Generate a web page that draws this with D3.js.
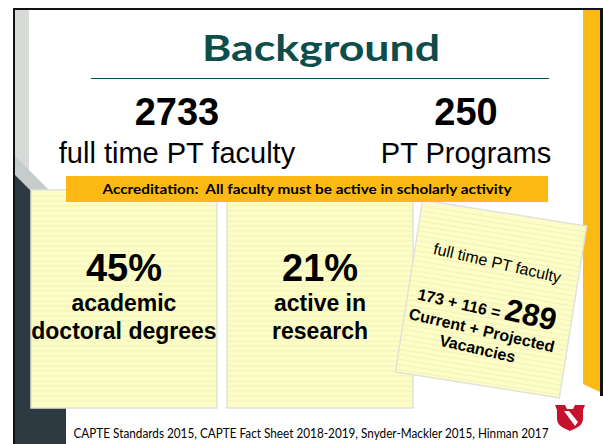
<!DOCTYPE html>
<html>
<head>
<meta charset="utf-8">
<script src="https://cdn.jsdelivr.net/npm/d3@7"></script>
<style>
  body { margin: 0; background: #fff; }
  svg { display: block; }
</style>
</head>
<body>
<div id="chart"></div>
<script>
// slide values
var title = "Background";
var headlineValues = ["2733", "250"];
var headlineLabels = ["full time PT faculty", "PT Programs"];
var bannerText = "Accreditation:  All faculty must be active in scholarly activity";
var noteValues = ["45%", "21%"];
var noteLabels = [["academic", "doctoral degrees"], ["active in", "research"]];
var vacancyHeader = "full time PT faculty";
var vacancyParts = ["173", "116"];
var vacancyTotal = "289";
var vacancyLabels = ["Current + Projected", "Vacancies"];
var footer = "CAPTE Standards 2015, CAPTE Fact Sheet 2018-2019, Snyder-Mackler 2015, Hinman 2017";

var w = 603, h = 444;
var gold = "#fdb913", teal = "#0d4d4a", noteFill = "#fdfdc6";
var arial = "'Liberation Sans', Arial, sans-serif";
var calibri = "Lato, 'Open Sans', sans-serif";

var svg = d3.select("#chart").append("svg")
    .attr("width", w)
    .attr("height", h);

// frame + side decoration
svg.append("rect").attr("x", 13).attr("y", 8).attr("width", 590).attr("height", 2).attr("fill", "#111");
svg.append("rect").attr("x", 13).attr("y", 8).attr("width", 2).attr("height", h).attr("fill", "#111");
svg.append("rect").attr("x", 600).attr("y", 8).attr("width", 3).attr("height", 388).attr("fill", "#111");
svg.append("rect").attr("x", 15).attr("y", 10).attr("width", 14).attr("height", 165).attr("fill", "#d8dad8");
svg.append("path").attr("d", "M15,156 L51,192 L15,192 Z").attr("fill", "#c6cbcb");
svg.append("path").attr("d", "M15,175 L32,192 L66,192 L66,444 L15,444 Z").attr("fill", "#2e3a41");
svg.append("path").attr("d", "M583,10 L600,10 L600,392 L583,384 Z").attr("fill", gold);

// title
svg.append("text")
    .attr("x", 321).attr("y", 61)
    .attr("text-anchor", "middle")
    .attr("font-family", calibri).attr("font-weight", "bold")
    .attr("font-size", 37).attr("fill", teal)
    .attr("textLength", 238).attr("lengthAdjust", "spacingAndGlyphs")
    .text(title);
svg.append("line").attr("x1", 91).attr("x2", 549).attr("y1", 78.5).attr("y2", 78.5)
    .attr("stroke", teal).attr("stroke-width", 1);

// headline numbers
var hx = d3.scalePoint().domain(headlineValues).range([177, 466]);
svg.selectAll("text.hv")
    .data(headlineValues)
    .enter().append("text")
    .attr("class", "hv")
    .attr("x", function(d) { return hx(d); })
    .attr("y", 125)
    .attr("text-anchor", "middle")
    .attr("font-family", arial).attr("font-weight", "bold").attr("font-size", 38)
    .attr("fill", "#000")
    .text(function(d) { return d; });
svg.selectAll("text.hl")
    .data(headlineLabels)
    .enter().append("text")
    .attr("class", "hl")
    .attr("x", function(d, i) { return hx(headlineValues[i]); })
    .attr("y", 163)
    .attr("text-anchor", "middle")
    .attr("font-family", arial).attr("font-size", 29)
    .attr("fill", "#000")
    .text(function(d) { return d; });

// legal pad notes
var nx = d3.scaleBand().domain(noteValues).range([31, 413]).paddingInner(0.052);
var noteTop = 190, noteBottom = 408;

function padLines(g, x0, y0, ww, hh) {
  var ys = d3.range(y0 + 6, y0 + hh - 2, 5);
  g.selectAll("line.pad")
    .data(ys)
    .enter().append("line")
    .attr("class", "pad")
    .attr("x1", x0 + 1).attr("x2", x0 + ww - 1)
    .attr("y1", function(d) { return d; }).attr("y2", function(d) { return d; })
    .attr("stroke", "#f1f1bd").attr("stroke-width", 1);
}

var notes = svg.selectAll("g.note")
    .data(noteValues)
    .enter().append("g")
    .attr("class", "note");
notes.append("rect")
    .attr("x", function(d) { return nx(d); })
    .attr("y", noteTop)
    .attr("width", nx.bandwidth())
    .attr("height", noteBottom - noteTop)
    .attr("fill", noteFill)
    .attr("stroke", "#e2e2d6").attr("stroke-width", 1.5);
notes.each(function(d) {
  padLines(d3.select(this), nx(d), noteTop, nx.bandwidth(), noteBottom - noteTop);
});
notes.append("text")
    .attr("x", function(d) { return nx(d) + nx.bandwidth() / 2; })
    .attr("y", 281)
    .attr("text-anchor", "middle")
    .attr("font-family", arial).attr("font-weight", "bold").attr("font-size", 38)
    .text(function(d) { return d; });
notes.each(function(d, i) {
  d3.select(this).selectAll("text.nl")
    .data(noteLabels[i])
    .enter().append("text")
    .attr("class", "nl")
    .attr("x", nx(d) + nx.bandwidth() / 2)
    .attr("y", function(t, j) { return 311 + j * 28; })
    .attr("text-anchor", "middle")
    .attr("font-family", arial).attr("font-weight", "bold").attr("font-size", 23)
    .text(function(t) { return t; });
});

// tilted vacancy note
var vn = svg.append("g").attr("transform", "translate(491,299) rotate(9)");
vn.append("rect")
    .attr("x", -83).attr("y", -87).attr("width", 166).attr("height", 174)
    .attr("fill", noteFill)
    .attr("stroke", "#e2e2d6").attr("stroke-width", 1.5);
padLines(vn, -83, -87, 166, 174);
var vt = svg.append("g").attr("transform", "translate(491,299) rotate(13)");
vt.append("text")
    .attr("x", -2).attr("y", -31)
    .attr("text-anchor", "middle")
    .attr("font-family", arial).attr("font-size", 16)
    .text(vacancyHeader);
var sum = vt.append("text")
    .attr("x", -2).attr("y", 17)
    .attr("text-anchor", "middle")
    .attr("font-family", arial).attr("font-weight", "bold");
sum.append("tspan").attr("font-size", 16).text(vacancyParts.join(" + ") + " = ");
sum.append("tspan").attr("font-size", 31).text(vacancyTotal);
vt.selectAll("text.vl")
    .data(vacancyLabels)
    .enter().append("text")
    .attr("class", "vl")
    .attr("x", -2)
    .attr("y", function(d, i) { return 38 + i * 19; })
    .attr("text-anchor", "middle")
    .attr("font-family", arial).attr("font-weight", "bold").attr("font-size", 16)
    .text(function(d) { return d; });

// accreditation banner (drawn over the notes)
svg.append("rect").attr("x", 66).attr("y", 176).attr("width", 482).attr("height", 26).attr("fill", gold);
svg.append("text")
    .attr("x", 307).attr("y", 194)
    .attr("text-anchor", "middle")
    .attr("font-family", calibri).attr("font-weight", "bold").attr("font-size", 14)
    .attr("textLength", 409).attr("lengthAdjust", "spacingAndGlyphs")
    .style("white-space", "pre")
    .text(bannerText);

// logo: red shield with a white diagonal
svg.append("path")
    .attr("d", "M555,405 L565,405 L567,409 L573,409 L575,405 L585,405 L583,410 L583,419 C583,425 577,428 570,431 C563,428 557,425 557,419 L557,410 Z")
    .attr("fill", "#c4122f");
svg.append("path")
    .attr("d", "M564,411 L569,411 L578,422 L575,426 Z")
    .attr("fill", "#fff");

// footer
svg.append("text")
    .attr("x", 311).attr("y", 438)
    .attr("text-anchor", "middle")
    .attr("font-family", calibri).attr("font-size", 13)
    .attr("fill", "#000")
    .attr("textLength", 475).attr("lengthAdjust", "spacingAndGlyphs")
    .text(footer);
</script>
</body>
</html>
